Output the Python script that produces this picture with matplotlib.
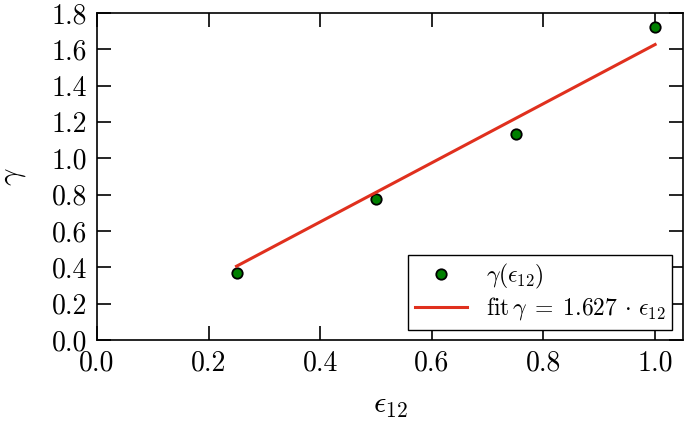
import matplotlib
matplotlib.use("Agg")
import matplotlib.pyplot as plt
import numpy as np

plt.rcParams.update({
    "font.family": "serif",
    "font.serif": ["cmr10", "DejaVu Serif"],
    "mathtext.fontset": "cm",
    "axes.formatter.use_mathtext": True,
    "font.size": 20,
})

eps = [0.25, 0.5, 0.75, 1.0]
gamma = [0.37, 0.775, 1.135, 1.722]
slope = 1.627
xticks = [0.0, 0.2, 0.4, 0.6, 0.8, 1.0]
yticks = [0.0, 0.2, 0.4, 0.6, 0.8, 1.0, 1.2, 1.4, 1.6, 1.8]

fig = plt.figure(figsize=(6.85, 4.22), dpi=100)
ax = fig.add_axes([0.1416, 0.194, 0.8555, 0.775])

ax.plot(eps, gamma, "o", color="#008000", markeredgecolor="black",
        markeredgewidth=1.3, markersize=7.5, label=r"$\gamma(\epsilon_{12})$")
xf = np.array([eps[0], eps[-1]])
ax.plot(xf, slope * xf, "-", color="#e0301e", lw=2.2,
        label=r"fit$\,\gamma\;=\;1.627\,\cdot\,\epsilon_{12}$")

ax.set_xlim(0, 1.05)
ax.set_ylim(0, 1.8)
ax.set_xticks(xticks)
ax.set_yticks(yticks)
ax.set_xticklabels([f"{v:.1f}" for v in xticks])
ax.set_yticklabels([f"{v:.1f}" for v in yticks])
ax.tick_params(direction="in", length=10, width=1.2, top=True, right=True, pad=7)
for s in ax.spines.values():
    s.set_linewidth(1.2)
ax.set_xlabel(r"$\epsilon_{12}$", fontsize=22, labelpad=12)
ax.set_ylabel(r"$\gamma$", fontsize=22, labelpad=17)

leg = ax.legend(loc="lower right", fancybox=False, edgecolor="black",
                framealpha=1, fontsize=17, borderaxespad=0.45,
                handlelength=2.2, labelspacing=0.2, borderpad=0.3,
                handletextpad=0.8)
leg.get_frame().set_linewidth(1.0)

fig.savefig("out.png", dpi=100)
